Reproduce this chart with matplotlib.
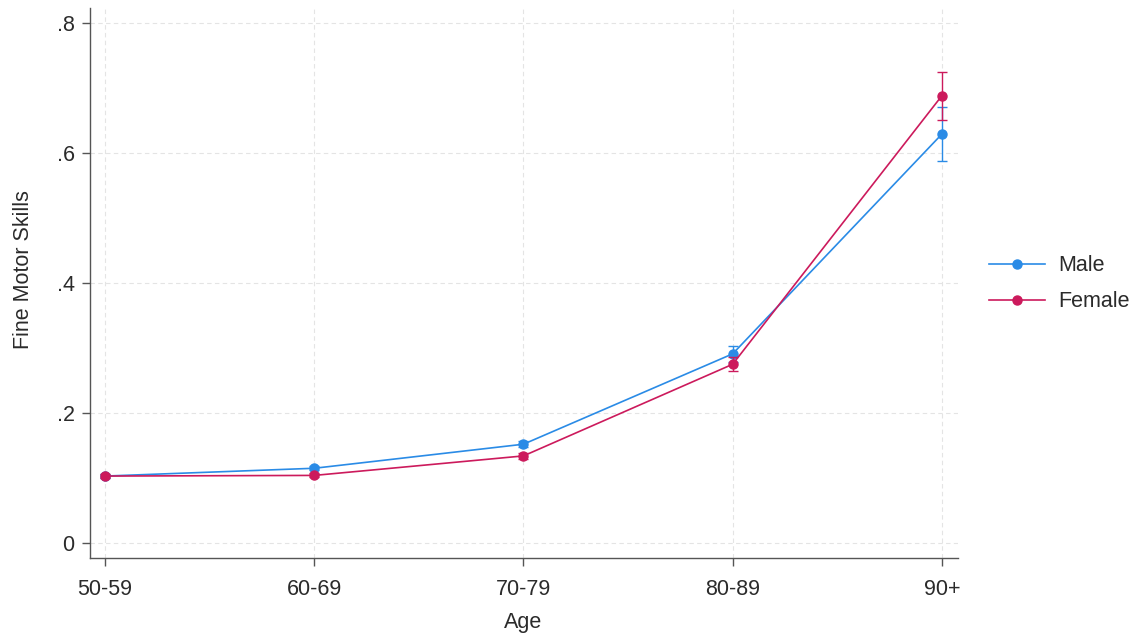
import matplotlib.pyplot as plt
from matplotlib.lines import Line2D

plt.rcParams['font.family'] = ['Liberation Sans', 'DejaVu Sans']

# data
ages = ['50-59', '60-69', '70-79', '80-89', '90+']
male = [0.103, 0.115, 0.152, 0.291, 0.629]
male_err = [0.003, 0.003, 0.005, 0.012, 0.041]
female = [0.103, 0.104, 0.134, 0.275, 0.688]
female_err = [0.003, 0.003, 0.005, 0.011, 0.037]
yticks = [0, 0.2, 0.4, 0.6, 0.8]
ytick_labels = ['0', '.2', '.4', '.6', '.8']

male_col = '#2a8be6'
female_col = '#cc1a5c'
txt_col = '#2b2b2b'

fig = plt.figure(figsize=(11.38, 6.35), dpi=100)
ax = fig.add_axes([0.0791, 0.1213, 0.7627, 0.8661])

x = list(range(len(ages)))
ax.errorbar(x, male, yerr=male_err, color=male_col, marker='o', markersize=6.5,
            linewidth=1.2, capsize=3.5, elinewidth=1.0, zorder=3)
ax.errorbar(x, female, yerr=female_err, color=female_col, marker='o', markersize=6.5,
            linewidth=1.2, capsize=3.5, elinewidth=1.0, zorder=4)

ax.set_xlim(-0.072, 4.077)
ax.set_ylim(-0.023, 0.823)
ax.set_xticks(x)
ax.set_xticklabels(ages)
ax.set_yticks(yticks)
ax.set_yticklabels(ytick_labels)

ax.grid(True, color='#e4e4e4', linestyle=(0, (4, 3)), linewidth=0.8)
ax.set_axisbelow(True)
for s in ['top', 'right']:
    ax.spines[s].set_visible(False)
for s in ['left', 'bottom']:
    ax.spines[s].set_color('#555555')
    ax.spines[s].set_linewidth(1.0)
ax.tick_params(axis='both', length=6, width=1.0, color='#555555',
               labelsize=15.5, labelcolor=txt_col)
ax.tick_params(axis='x', pad=9)
ax.tick_params(axis='y', pad=5)

ax.set_xlabel('Age', fontsize=15.5, color=txt_col)
ax.xaxis.set_label_coords(0.499, -0.098)
ax.set_ylabel('Fine Motor Skills', fontsize=15.5, color=txt_col)
ax.yaxis.set_label_coords(-0.065, 0.524)

handles = [Line2D([], [], color=male_col, marker='o', markersize=6.5, linewidth=1.2),
           Line2D([], [], color=female_col, marker='o', markersize=6.5, linewidth=1.2)]
fig.legend(handles, ['Male', 'Female'], loc='center left', bbox_to_anchor=(0.852, 0.553),
           frameon=False, fontsize=15.5, handlelength=2.6, labelspacing=0.69,
           handletextpad=0.6, labelcolor=txt_col)

plt.savefig('out.png', dpi=100)
